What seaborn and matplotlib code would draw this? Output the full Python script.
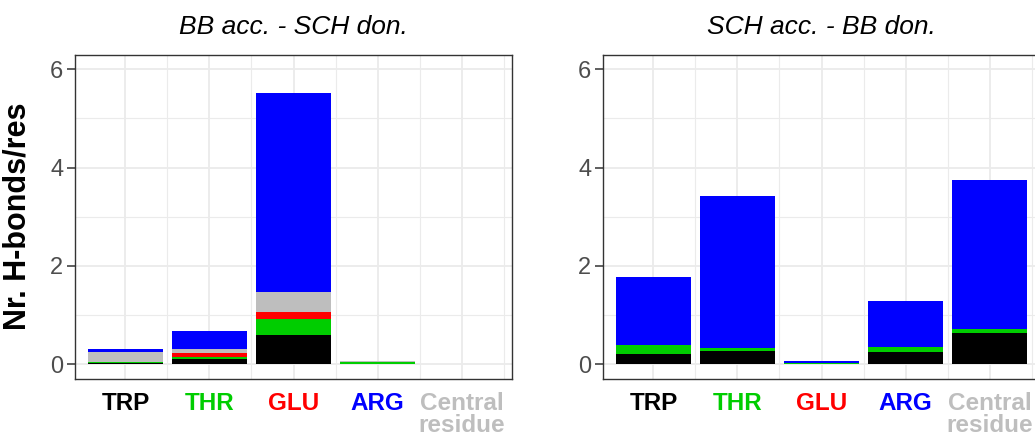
import numpy as np
import pandas as pd
import matplotlib
matplotlib.use("Agg")
import matplotlib.pyplot as plt
from matplotlib.ticker import FixedLocator
import seaborn as sns

# ---------------- data ----------------
categories = ["TRP", "THR", "GLU", "ARG", "Central\nresidue"]
cat_colors = ["#000000", "#00CD00", "#FF0000", "#0000FF", "#BEBEBE"]
panel_titles = ["BB acc. - SCH don.", "SCH acc. - BB don."]

# stacking order bottom -> top: TRP, THR, GLU, Central residue, ARG
stack_names = ["TRP", "THR", "GLU", "Central residue", "ARG"]
stack_colors = ["#000000", "#00CD00", "#FF0000", "#BEBEBE", "#0000FF"]

# panel 1: BB acc. - SCH don.
bb_trp = [0.03, 0.115, 0.60, 0.00, 0.0]
bb_thr = [0.01, 0.035, 0.32, 0.05, 0.0]
bb_glu = [0.007, 0.07, 0.14, 0.00, 0.0]
bb_central = [0.20, 0.09, 0.40, 0.02, 0.0]
bb_arg = [0.06, 0.37, 4.05, 0.00, 0.0]

# panel 2: SCH acc. - BB don.
sch_trp = [0.21, 0.26, 0.01, 0.24, 0.63]
sch_thr = [0.18, 0.08, 0.01, 0.12, 0.09]
sch_glu = [0.0, 0.0, 0.0, 0.0, 0.0]
sch_central = [0.0, 0.0, 0.0, 0.0, 0.0]
sch_arg = [1.38, 3.08, 0.05, 0.93, 3.03]

y_ticks = [0, 2, 4, 6]
y_label = "Nr. H-bonds/res"

panels = [
    [bb_trp, bb_thr, bb_glu, bb_central, bb_arg],
    [sch_trp, sch_thr, sch_glu, sch_central, sch_arg],
]

# ---------------- style ----------------
sns.set_theme(style="white")
plt.rcParams["font.family"] = ["Liberation Sans", "DejaVu Sans"]

W, H = 1035, 438
fig = plt.figure(figsize=(W / 100, H / 100), dpi=100)

ax_w = 437 / W
ax_b = (H - 379) / H
ax_h = (379 - 54.5) / H
lefts = [75 / W, 603 / W]

for pi, layers in enumerate(panels):
    ax = fig.add_axes([lefts[pi], ax_b, ax_w, ax_h])
    cum = np.cumsum(np.array(layers, dtype=float), axis=0)
    # draw from top layer down so lower layers overlay
    for li in range(len(layers) - 1, -1, -1):
        df = pd.DataFrame({"cat": categories, "val": cum[li]})
        sns.barplot(data=df, x="cat", y="val", order=categories,
                    color=stack_colors[li], width=0.9, errorbar=None,
                    linewidth=0, saturation=1, ax=ax)

    ax.set_xlim(-0.6, len(categories) - 0.4)
    ax.set_ylim(-0.3, 6.3)
    ax.set_yticks(y_ticks)
    ax.set_yticklabels([str(t) for t in y_ticks])
    ax.set_xticks(range(len(categories)))
    ax.set_xticklabels(categories)
    ax.yaxis.set_minor_locator(FixedLocator([1, 3, 5]))
    ax.xaxis.set_minor_locator(FixedLocator([0.5, 1.5, 2.5, 3.5, 4.5]))
    ax.set_axisbelow(True)
    ax.grid(True, which="major", color="#EBEBEB", linewidth=1.3)
    ax.grid(True, which="minor", color="#EBEBEB", linewidth=0.8)

    for s in ax.spines.values():
        s.set_color("#333333")
        s.set_linewidth(1.0)
        s.set_visible(True)

    ax.tick_params(axis="y", which="major", length=5.5, width=1.1, color="#333333",
                   labelsize=17, labelcolor="#4D4D4D", pad=3, left=True)
    ax.tick_params(axis="x", which="major", length=0, pad=9, labelsize=17.5, bottom=True)
    ax.tick_params(which="minor", length=0)
    for lab, c in zip(ax.get_xticklabels(), cat_colors):
        lab.set_color(c)
        lab.set_fontweight("bold")
        lab.set_linespacing(1.0)

    ax.set_xlabel("")
    ax.set_ylabel("")
    ax.set_title(panel_titles[pi], fontsize=19, fontstyle="italic", color="black", pad=15)

fig.text(18 / W, ax_b + ax_h / 2, y_label, rotation=90, ha="center", va="center",
         fontsize=22, fontweight="bold", color="black")

fig.savefig("out.png", dpi=100)
